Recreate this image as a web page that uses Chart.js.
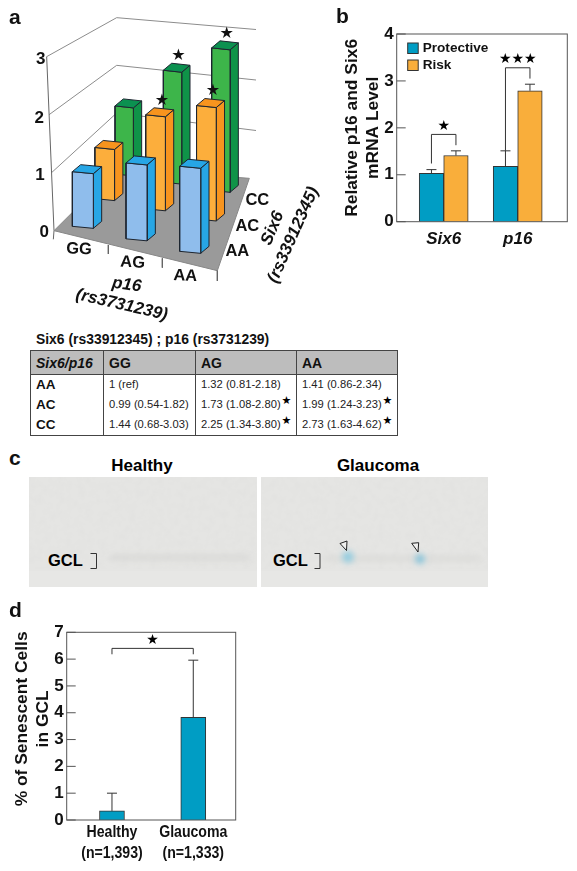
<!DOCTYPE html>
<html>
<head>
<meta charset="utf-8">
<title>Six6 and p16 risk variants</title>
<script src="https://cdn.jsdelivr.net/npm/chart.js@4/dist/chart.umd.min.js"></script>
<style>
    html, body { margin: 0; padding: 0; background: #fff; }
    body { position: relative; width: 577px; height: 871px; overflow: hidden; font-family: "Liberation Sans", Arial, sans-serif; color: #111; }
    canvas { position: absolute; }
    .letter { position: absolute; font-weight: bold; font-size: 21px; line-height: 21px; }
    #oddsTitle { position: absolute; left: 36px; top: 331px; font-size: 13.9px; font-weight: bold; white-space: nowrap; }
    #oddsTable { position: absolute; left: 30px; top: 350px; width: 368px; height: 83px; border-collapse: collapse; table-layout: fixed; border: 1px solid #444; font-size: 11.2px; }
    #oddsTable th { background: #bdbdbd; height: 23px; font-size: 14px; text-align: left; padding: 0 0 0 5px; border-bottom: 1px solid #444; border-left: 1px solid #444; }
    #oddsTable td { padding: 0 0 2px 5px; height: 18px; border-left: 1px solid #444; white-space: nowrap; color: #222; }
    #oddsTable td:first-child { font-weight: bold; font-size: 13.5px; color: #111; }
    #oddsTable th:first-child { font-style: italic; }
    #oddsTable .star { font-family: "DejaVu Sans"; font-size: 11px; position: relative; top: -4px; left: 1px; color: #000; }
    #micrographs { position: absolute; left: 0; top: 440px; }
</style>
</head>
<body>
<canvas id="chartA" width="330" height="330" style="left:0;top:0"></canvas>
<canvas id="chartB" width="247" height="270" style="left:330px;top:0"></canvas>
<div class="letter" style="left:9px;top:6px">a</div>
<div class="letter" style="left:336px;top:5px">b</div>
<div id="oddsTitle">Six6 (rs33912345) ; p16 (rs3731239)</div>
<table id="oddsTable"></table>
<div class="letter" style="left:9px;top:447px">c</div>
<svg id="micrographs" width="577" height="155" font-family="Liberation Sans">
    <defs>
        <filter id="grain" x="0" y="0" width="100%" height="100%">
            <feTurbulence type="fractalNoise" baseFrequency="0.14" numOctaves="3" seed="4"/>
            <feColorMatrix type="matrix" values="0 0 0 0 0.72  0 0 0 0 0.72  0 0 0 0 0.71  0.6 0 0 0 -0.22"/>
        </filter>
        <filter id="soft" x="-100%" y="-300%" width="300%" height="700%"><feGaussianBlur stdDeviation="3"/></filter>
    </defs>
    <text x="142" y="31" text-anchor="middle" font-weight="bold" font-size="17">Healthy</text>
    <text x="378" y="31" text-anchor="middle" font-weight="bold" font-size="17">Glaucoma</text>
    <g>
        <rect x="29" y="37" width="228" height="110" fill="#e5e5e3"/>
        <rect x="261" y="37" width="227" height="110" fill="#e5e5e3"/>
        <rect x="29" y="37" width="228" height="92" filter="url(#grain)"/>
        <rect x="261" y="37" width="227" height="92" filter="url(#grain)"/>
        <rect x="29" y="131" width="228" height="16" fill="#e7e7e5"/>
        <rect x="261" y="131" width="227" height="16" fill="#e7e7e5"/>
        <rect x="110" y="116" width="140" height="3" fill="#cfcfcd" filter="url(#soft)"/>
        <rect x="325" y="117" width="155" height="3" fill="#d4d4d2" filter="url(#soft)"/>
        <circle cx="348" cy="117" r="5.5" fill="#8ccbe0" filter="url(#soft)"/>
        <circle cx="420" cy="119" r="4.5" fill="#78c0da" filter="url(#soft)"/>
    </g>
    <text x="48" y="126" font-weight="bold" font-size="16.5">GCL</text>
    <text x="273" y="126" font-weight="bold" font-size="16.5">GCL</text>
    <path d="M90.5 113.5H96.5V128.5H90.5M314.5 113.5H320V128.5H314.5" fill="none" stroke="#333"/>
    <path d="M340 103.5L347 101L346.5 110.5ZM411.7 103.3L418.7 102.7L418 112Z" fill="#fff" fill-opacity="0.4" stroke="#222"/>
</svg>
<canvas id="chartD" width="260" height="276" style="left:0;top:595px"></canvas>
<div class="letter" style="left:9px;top:599px">d</div>

<script>
// panel a + table: odds ratios by genotype
const p16Genotypes = ['GG', 'AG', 'AA'];
const six6Genotypes = ['AA', 'AC', 'CC'];
const oddsAA = [1, 1.32, 1.41];
const oddsAC = [0.99, 1.73, 1.99];
const oddsCC = [1.44, 2.25, 2.73];
const ciAA = ['1 (ref)', '1.32 (0.81-2.18)', '1.41 (0.86-2.34)'];
const ciAC = ['0.99 (0.54-1.82)', '1.73 (1.08-2.80)', '1.99 (1.24-3.23)'];
const ciCC = ['1.44 (0.68-3.03)', '2.25 (1.34-3.80)', '2.73 (1.63-4.62)'];
const signifAA = [false, false, false];
const signifAC = [false, true, true];
const signifCC = [false, true, true];
const levelsA = [0, 1, 2, 3];

// panel b
const categoriesB = ['Six6', 'p16'];
const protectiveMeans = [1.03, 1.18];
const riskMeans = [1.41, 2.79];
const protectiveTops = [1.11, 1.51];
const riskTops = [1.51, 2.93];
const bracketTopB = [1.86, 3.28];
const bracketLeftEndB = [1.24, 1.51];
const bracketRightEndB = [1.63, 3.05];
const bracketStarsB = ['★', '★★★'];

// panel d
const categoriesD = [['Healthy', '(n=1,393)'], ['Glaucoma', '(n=1,333)']];
const senescentMeans = [0.34, 3.83];
const senescentTops = [1.0, 5.96];
const bracketD = { top: 6.4, end: 6.18, star: '★' };

const FONT = '"Liberation Sans", Arial, sans-serif';
const DARK = '#333';

// table
const oddsRows = [ciAA, ciAC, ciCC];
const signifRows = [signifAA, signifAC, signifCC];
let tableHtml = '<colgroup><col style="width:73px"><col style="width:92px"><col style="width:101px"><col></colgroup>';
tableHtml += '<tr><th>Six6/p16</th>' + p16Genotypes.map(g => `<th>${g}</th>`).join('') + '</tr>';
six6Genotypes.forEach((g, j) => {
    tableHtml += `<tr><td>${g}</td>`;
    oddsRows[j].forEach((text, i) => {
        const star = signifRows[j][i] ? '<span class="star">★</span>' : '';
        tableHtml += `<td>${text}${star}</td>`;
    });
    tableHtml += '</tr>';
});
document.getElementById('oddsTable').innerHTML = tableHtml;

// --- panel a: fake 3D bars, each face is a closed line dataset ---
function lerp(a, b, t) { return a + (b - a) * t; }

// front right foot of the bar at p16 index i, Six6 index j (coords in a 990 wide drawing)
function barFoot(i, j) {
    const t = [0, 0.53, 1][j], s = i / 2;
    return [
        lerp(lerp(280, 602, s), lerp(400, 690, s), t),
        lerp(lerp(685, 760, s), lerp(528, 577, s), t)
    ];
}

function barFaces(i, j, value) {
    const [fx, fy] = barFoot(i, j);
    const w = 63 - 4 * j;
    const unit = (164 + 8.5 * i) * [1, 0.945, 0.865][j];
    const h = value * unit;
    const sx = 25, sy = -21;
    const pts = {
        fl: [fx - w, fy - 6], fr: [fx, fy],
        tl: [fx - w, fy - 6 - h], tr: [fx, fy - h],
        br: [fx + sx, fy + sy], tbr: [fx + sx, fy + sy - h], tbl: [fx - w + sx, fy - 6 + sy - h]
    };
    return {
        front: [pts.fl, pts.fr, pts.tr, pts.tl, pts.fl],
        side: [pts.fr, pts.br, pts.tbr, pts.tr, pts.fr],
        top: [pts.tl, pts.tr, pts.tbr, pts.tbl, pts.tl],
        anchor: pts.tr
    };
}

function toPoints(list) { return list.map(p => ({ x: p[0] / 3, y: p[1] / 3 })); }

function polygon(list, fillColor, edge) {
    return {
        data: toPoints(list), showLine: true, fill: 'shape', tension: 0, pointRadius: 0,
        backgroundColor: fillColor, borderColor: edge || '#1d2530', borderWidth: 1
    };
}

function polyline(list, color) {
    return { data: toPoints(list), showLine: true, fill: false, tension: 0, pointRadius: 0, borderColor: color, borderWidth: 1 };
}

const rowColors = [
    { front: '#8fbdec', side: '#27a6e5', top: '#27a6e5' },
    { front: '#fcae3c', side: '#f7941e', top: '#f7941e' },
    { front: '#3db54a', side: '#0f9348', top: '#0b9150' }
];
const oddsByRow = [oddsAA, oddsAC, oddsCC];

// painter's order, back to front
const paintA = [];
levelsA.slice(1).forEach(l => {
    paintA.push(polyline([[162 - 7.33 * l, 692 - 174 * l], [350, 482 - 143 * l], [768, 543 - 151.5 * l]], '#8c8c8c'));
});
paintA.push(polyline([[140, 170], [162, 692], [160, 718]], '#666'));
paintA.push(polygon([[162, 692], [350, 505], [748, 535], [652, 812], [162, 692]], '#9a9a9a', '#888'));
[[325, 735, 762], [487, 775, 803], [652, 812, 843]].forEach(t => {
    paintA.push(polyline([[t[0], t[1]], [t[0], t[2]]], '#666'));
});
[2, 1, 0].forEach(j => {
    [2, 1, 0].forEach(i => {
        const f = barFaces(i, j, oddsByRow[j][i]);
        paintA.push(polygon(f.side, rowColors[j].side));
        paintA.push(polygon(f.front, rowColors[j].front));
        paintA.push(polygon(f.top, rowColors[j].top));
    });
});

const labelsA = {
    id: 'labelsA',
    afterDatasetsDraw(chart) {
        const { ctx, scales: { x, y } } = chart;
        const put = (text, zx, zy, font, deg) => {
            ctx.save();
            ctx.translate(x.getPixelForValue(zx / 3), y.getPixelForValue(zy / 3));
            ctx.rotate((deg || 0) * Math.PI / 180);
            ctx.font = font;
            ctx.fillStyle = '#111';
            ctx.textAlign = 'center';
            ctx.textBaseline = 'middle';
            ctx.fillText(text, 0, 0);
            ctx.restore();
        };
        const tickFont = `bold 17px ${FONT}`;
        const labelFont = `bold 16.5px ${FONT}`;
        const italic = `italic bold 17px ${FONT}`;
        [[133, 698], [120, 527], [118, 355], [122, 178]].forEach((p, l) => put(String(levelsA[l]), p[0], p[1], tickFont));
        [[237, 748], [398, 788], [556, 828]].forEach((p, i) => put(p16Genotypes[i], p[0], p[1], labelFont, 3));
        [[712, 755], [742, 678], [772, 602]].forEach((p, j) => put(six6Genotypes[j], p[0], p[1], labelFont));
        put('p16', 380, 855, italic, 8);
        put('(rs3731239)', 365, 915, italic, 13);
        put('Six6', 818, 685, italic, -67);
        put('(rs33912345)', 880, 705, italic, -66);
        signifRows.forEach((row, j) => row.forEach((on, i) => {
            if (!on) return;
            const a = barFaces(i, j, oddsByRow[j][i]).anchor;
            put('★', a[0] - 10, a[1] - 49, '16px "DejaVu Sans"');
        }));
    }
};

new Chart(document.getElementById('chartA'), {
    type: 'scatter',
    data: { datasets: paintA.reverse() },
    options: {
        responsive: false,
        animation: false,
        layout: { padding: 0 },
        plugins: { legend: { display: false }, tooltip: { enabled: false }, filler: { drawTime: 'beforeDatasetDraw' } },
        scales: {
            x: { type: 'linear', display: false, min: 0, max: 330 },
            y: { type: 'linear', display: false, min: 0, max: 330, reverse: true }
        }
    },
    plugins: [labelsA]
});

// --- panels b and d share the inward ticks, box, error bars ---
function drawFrame(chart) {
    const { ctx, chartArea: a, scales: { y } } = chart;
    ctx.save();
    ctx.strokeStyle = '#555';
    ctx.lineWidth = 1;
    ctx.strokeRect(a.left, a.top, a.right - a.left, a.bottom - a.top);
    y.ticks.forEach(t => {
        const py = y.getPixelForValue(t.value);
        ctx.beginPath();
        ctx.moveTo(a.left, py);
        ctx.lineTo(a.left + 9, py);
        ctx.stroke();
    });
    ctx.restore();
}

function drawErrorBar(chart, px, fromValue, toValue, capHalf) {
    const { ctx, scales: { y } } = chart;
    ctx.save();
    ctx.strokeStyle = DARK;
    ctx.lineWidth = 1;
    ctx.beginPath();
    ctx.moveTo(px, y.getPixelForValue(fromValue));
    ctx.lineTo(px, y.getPixelForValue(toValue));
    ctx.moveTo(px - capHalf, y.getPixelForValue(toValue));
    ctx.lineTo(px + capHalf, y.getPixelForValue(toValue));
    ctx.stroke();
    ctx.restore();
}

function drawBracket(chart, leftX, rightX, top, leftEnd, rightEnd, stars) {
    const { ctx, scales: { y } } = chart;
    ctx.save();
    ctx.strokeStyle = DARK;
    ctx.lineWidth = 1;
    ctx.beginPath();
    ctx.moveTo(leftX, y.getPixelForValue(leftEnd));
    ctx.lineTo(leftX, y.getPixelForValue(top));
    ctx.lineTo(rightX, y.getPixelForValue(top));
    ctx.lineTo(rightX, y.getPixelForValue(rightEnd));
    ctx.stroke();
    ctx.font = '14px "DejaVu Sans"';
    ctx.fillStyle = '#000';
    ctx.textAlign = 'center';
    ctx.textBaseline = 'middle';
    ctx.fillText(stars, (leftX + rightX) / 2, y.getPixelForValue(top) - 8);
    ctx.restore();
}

// legend sits inside the plot, drawn from the dataset labels and colours
function drawLegendInside(chart) {
    const { ctx, chartArea: a } = chart;
    ctx.save();
    ctx.font = `bold 13.6px ${FONT}`;
    ctx.textBaseline = 'middle';
    chart.data.datasets.forEach((ds, i) => {
        const top = a.top + 9 + i * 17;
        ctx.fillStyle = ds.backgroundColor;
        ctx.strokeStyle = DARK;
        ctx.fillRect(a.left + 11, top, 10.5, 10.5);
        ctx.strokeRect(a.left + 11, top, 10.5, 10.5);
        ctx.fillStyle = '#111';
        ctx.fillText(ds.label, a.left + 26, top + 5.5);
    });
    ctx.restore();
}

const decorB = {
    id: 'decorB',
    afterDatasetsDraw(chart) {
        drawFrame(chart);
        drawLegendInside(chart);
        const prot = chart.getDatasetMeta(0).data;
        const risk = chart.getDatasetMeta(1).data;
        categoriesB.forEach((c, i) => {
            drawErrorBar(chart, prot[i].x, protectiveMeans[i], protectiveTops[i], 5);
            drawErrorBar(chart, risk[i].x, riskMeans[i], riskTops[i], 5);
            drawBracket(chart, prot[i].x, risk[i].x, bracketTopB[i], bracketLeftEndB[i], bracketRightEndB[i], bracketStarsB[i]);
        });
    }
};

new Chart(document.getElementById('chartB'), {
    type: 'bar',
    data: {
        datasets: [
            { label: 'Protective', data: categoriesB.map((c, i) => ({ x: i + 1, y: protectiveMeans[i] })), backgroundColor: '#009dc4', borderColor: DARK, borderWidth: 1, barThickness: 24.5 },
            { label: 'Risk', data: categoriesB.map((c, i) => ({ x: i + 1, y: riskMeans[i] })), backgroundColor: '#f9ae3b', borderColor: DARK, borderWidth: 1, barThickness: 24.5 }
        ]
    },
    options: {
        responsive: false,
        animation: false,
        layout: { padding: { top: 34, right: 9.7, left: 0, bottom: 0 } },
        plugins: { tooltip: { enabled: false }, legend: { display: false } },
        scales: {
            x: {
                type: 'linear', min: 0.365, max: 2.67, offset: false,
                grid: { display: false, drawTicks: false },
                border: { display: false },
                afterBuildTicks(scale) { scale.ticks = categoriesB.map((c, i) => ({ value: i + 1 })); },
                afterFit(scale) { scale.height = 48.3; },
                ticks: {
                    padding: 7, color: '#111', maxRotation: 0, autoSkip: false,
                    font: { family: FONT, size: 17, weight: 'bold', style: 'italic' },
                    callback: v => categoriesB[v - 1]
                }
            },
            y: {
                min: 0, max: 4,
                grid: { display: false, drawTicks: false },
                border: { display: false },
                afterFit(scale) { scale.width = 66.7; },
                ticks: { stepSize: 1, padding: 3, color: '#111', font: { family: FONT, size: 17, weight: 'bold' } },
                title: {
                    display: true, text: ['Relative p16 and Six6', 'mRNA Level'], color: '#111',
                    padding: { top: 11, bottom: 0 },
                    font: { family: FONT, size: 17.4, weight: 'bold', lineHeight: 1.25 }
                }
            }
        }
    },
    plugins: [decorB]
});

// Category labels of d are condensed in the figure and no narrow face is installed,
// so they are squeezed horizontally at each tick position of the x scale.
function drawCondensedLabels(chart) {
    const { ctx, chartArea: a, scales: { x } } = chart;
    ctx.save();
    ctx.font = `bold 17px ${FONT}`;
    ctx.fillStyle = '#111';
    ctx.textAlign = 'center';
    ctx.textBaseline = 'middle';
    categoriesD.forEach((lines, i) => {
        lines.forEach((line, k) => {
            ctx.save();
            ctx.translate(x.getPixelForValue(i + 1), a.bottom + 12 + k * 21);
            ctx.scale(0.83, 1);
            ctx.fillText(line, 0, 0);
            ctx.restore();
        });
    });
    ctx.restore();
}

const decorD = {
    id: 'decorD',
    afterDatasetsDraw(chart) {
        drawFrame(chart);
        drawCondensedLabels(chart);
        const bars = chart.getDatasetMeta(0).data;
        categoriesD.forEach((c, i) => drawErrorBar(chart, bars[i].x, senescentMeans[i], senescentTops[i], 5));
        drawBracket(chart, bars[0].x, bars[1].x, bracketD.top, bracketD.end, bracketD.end, bracketD.star);
    }
};

new Chart(document.getElementById('chartD'), {
    type: 'bar',
    data: {
        datasets: [{
            data: categoriesD.map((c, i) => ({ x: i + 1, y: senescentMeans[i] })),
            backgroundColor: '#009dc4', borderColor: DARK, borderWidth: 1, barThickness: 25
        }]
    },
    options: {
        responsive: false,
        animation: false,
        layout: { padding: { top: 37.3, right: 24.3, left: 0, bottom: 0 } },
        plugins: { legend: { display: false }, tooltip: { enabled: false } },
        scales: {
            x: {
                type: 'linear', min: 0.443, max: 2.522, offset: false,
                grid: { display: false, drawTicks: false },
                border: { display: false },
                afterBuildTicks(scale) { scale.ticks = categoriesD.map((c, i) => ({ value: i + 1 })); },
                afterFit(scale) { scale.height = 51; },
                ticks: { display: false }
            },
            y: {
                min: 0, max: 7,
                grid: { display: false, drawTicks: false },
                border: { display: false },
                afterFit(scale) { scale.width = 66.7; },
                ticks: { stepSize: 1, padding: 3, color: '#111', font: { family: FONT, size: 17, weight: 'bold' } },
                title: {
                    // leading spaces nudge the centred title up along the axis
                    display: true, text: ['   % of Senescent Cells', '   in GCL'], color: '#111',
                    padding: { top: 11, bottom: 0 },
                    font: { family: FONT, size: 17.4, weight: 'bold', lineHeight: 1.25 }
                }
            }
        }
    },
    plugins: [decorD]
});
</script>
</body>
</html>
